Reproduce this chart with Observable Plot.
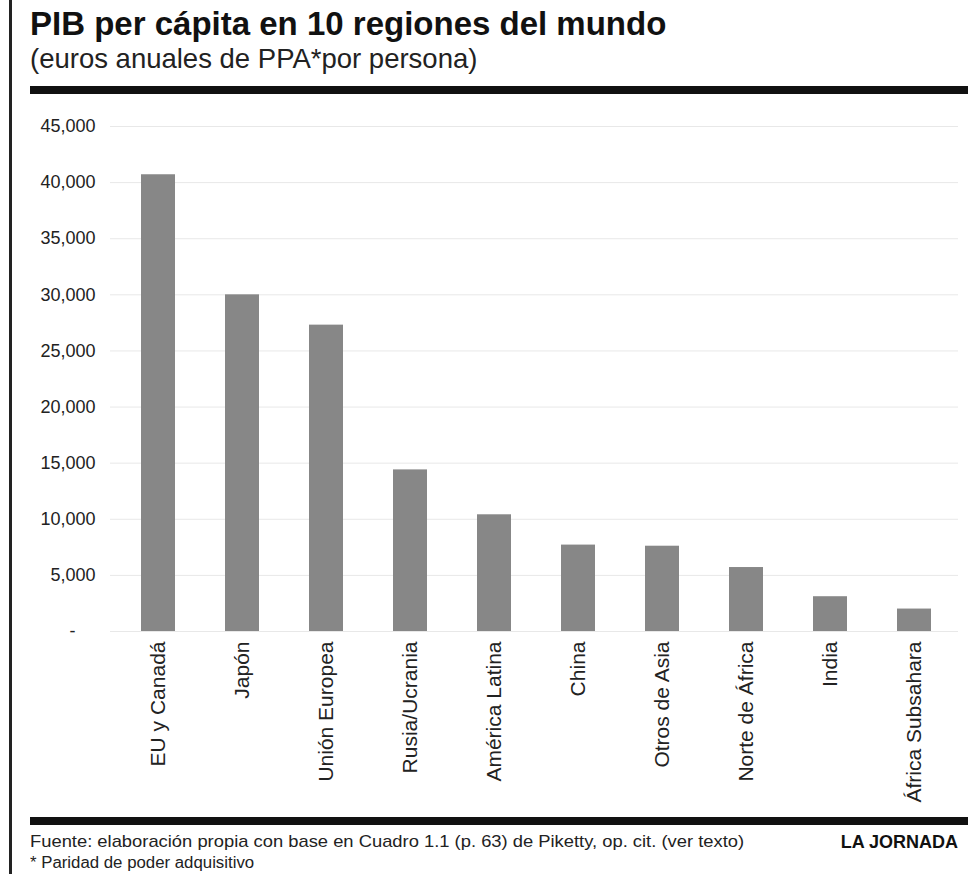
<!DOCTYPE html>
<html><head><meta charset="utf-8">
<script src="https://cdn.jsdelivr.net/npm/d3@7"></script>
<script src="https://cdn.jsdelivr.net/npm/@observablehq/plot@0.6"></script>
<style>
html,body{margin:0;padding:0;background:#fff;}
body{width:968px;height:874px;position:relative;overflow:hidden;font-family:"Liberation Sans",Arial,sans-serif;}
#vline{position:absolute;left:9px;top:0;width:3px;height:874px;background:#222;z-index:5;}
#title{position:absolute;left:30px;top:5px;font-size:33px;font-weight:bold;color:#111;white-space:nowrap;}
#subtitle{position:absolute;left:30px;top:43px;font-size:27.5px;color:#222;white-space:nowrap;}
#rule1{position:absolute;left:30px;top:86px;width:938px;height:8px;background:#111;}
#chart{position:absolute;left:0;top:100px;}
#rule2{position:absolute;left:30px;top:817px;width:938px;height:8px;background:#111;}
.foot{position:absolute;left:30px;color:#222;white-space:nowrap;transform-origin:left top;}
#foot1{top:832px;font-size:17px;line-height:19px;transform:scaleX(1.08);}
#foot2{top:854px;font-size:16px;line-height:18px;transform:scaleX(1.05);}
#brand{position:absolute;right:10px;top:832px;font-size:18px;line-height:20px;font-weight:bold;color:#111;}
</style></head>
<body>
<div id="vline"></div>
<div id="title">PIB per cápita en 10 regiones del mundo</div>
<div id="subtitle">(euros anuales de PPA*por persona)</div>
<div id="rule1"></div>
<div id="chart"></div>
<div id="rule2"></div>
<div id="foot1" class="foot">Fuente: elaboración propia con base en Cuadro 1.1 (p. 63) de Piketty, op. cit. (ver texto)</div>
<div id="foot2" class="foot">* Paridad de poder adquisitivo</div>
<div id="brand">LA JORNADA</div>
<script>
const regions = ["EU y Canadá","Japón","Unión Europea","Rusia/Ucrania","América Latina","China","Otros de Asia","Norte de África","India","África Subsahara"];
const gdpPerCapita = [40700,30000,27300,14400,10400,7700,7600,5700,3100,2000];
const yTicks = [0,5000,10000,15000,20000,25000,30000,35000,40000,45000];

const data = regions.map((r,i)=>({region:r, value:gdpPerCapita[i]}));
const fmt = d => d === 0 ? "-\u00a0\u00a0\u00a0\u00a0" : d3.format(",")(d);

const chart = Plot.plot({
  width: 968,
  height: 715,
  marginTop: 26,
  marginBottom: 184,
  marginLeft: 116,
  marginRight: 12,
  style: {fontFamily: "'Liberation Sans', Arial, sans-serif", fontSize: "18px", color: "#222", background: "transparent"},
  x: {domain: regions, paddingInner: 0.6, paddingOuter: 0.3, label: null},
  y: {domain: [0,45000], label: null},
  marks: [
    Plot.gridY(yTicks, {stroke: "#e8e8e8", strokeOpacity: 1, insetLeft: -6, insetRight: -2}),
    Plot.barY(data, {x: "region", y: "value", fill: "#878787"}),
    Plot.axisY({ticks: yTicks, tickFormat: fmt, tickSize: 0, tickPadding: 21, fontSize: 18, label: null}),
    Plot.axisX({tickSize: 0, tickRotate: -90, tickPadding: 10, fontSize: 21, label: null})
  ]
});
document.getElementById("chart").appendChild(chart);
</script>
</body></html>
